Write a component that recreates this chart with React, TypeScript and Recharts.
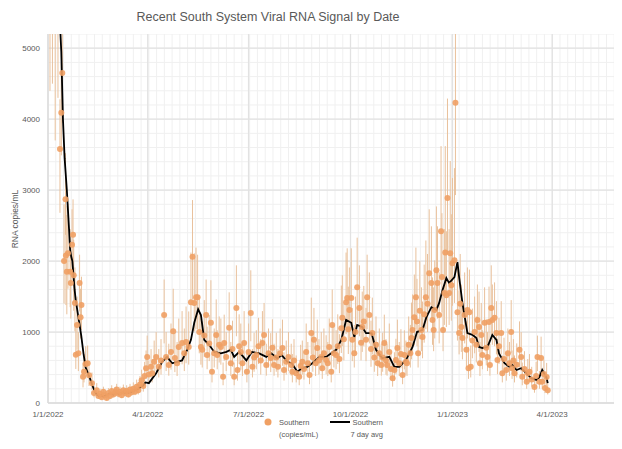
import React from 'react';
import { ComposedChart, Scatter, Line, XAxis, YAxis, CartesianGrid, ErrorBar } from 'recharts';

// x = days since 1/1/2022
const tickDays = [0, 90, 181, 273, 365, 455];
const tickLabels = ['1/1/2022', '4/1/2022', '7/1/2022', '10/1/2022', '1/1/2023', '4/1/2023'];
const yTicks = [0, 1000, 2000, 3000, 4000, 5000];

// Southern (copies/mL) samples
const sampleDays = [
  1.8, 4, 6.5, 9, 10.8, 12, 12.9, 14.5, 15.8, 16.2,
  17, 18, 20, 20.6, 21.7, 22.6, 23.2, 24.3, 25.1, 26.2,
  27.4, 28.5, 29.4, 30.2, 31.6, 32.5, 34, 35.8, 37, 39.7,
  41.5, 44, 45.5, 47, 48.5, 50, 51.5, 53, 54.5, 56,
  57.5, 59, 60.5, 62, 63.5, 65, 66.5, 68, 69.5, 71,
  72.5, 74, 75.5, 77, 78.5, 80, 81.5, 83, 84.5, 86,
  87.2, 88.5, 89.5, 91, 93, 94, 95.8, 97.6, 100, 102,
  104.8, 106.6, 109, 111, 113, 114.5, 116.5, 118, 121, 123,
  124.6, 127, 129, 130.4, 132, 133.6, 135, 136.5, 138, 139.2,
  141, 142.7, 143.6, 145.5, 147, 148, 150, 151.8, 152.7, 154.5,
  156, 158, 159, 160.8, 163.5, 165, 166.5, 168, 170, 171,
  172.5, 174, 175.5, 177, 179.5, 181, 183, 184.5, 186, 188,
  190, 192, 193.5, 195, 197, 199, 201, 202.5, 204, 206,
  207.5, 209.5, 211.6, 213, 215, 217, 219.5, 220.5, 222, 224,
  226.7, 228, 229.5, 231, 233, 234.5, 236, 237.6, 239, 240,
  241.5, 243, 244.5, 246.6, 247.5, 249, 251, 252.5, 253.8, 255.6,
  256.5, 258, 260, 261.5, 263, 264.7, 265.6, 267, 269, 270,
  271, 272, 273.7, 274.6, 276.4, 277.5, 279, 281, 282.5, 283.6,
  285, 287, 288, 290, 291.5, 292.7, 294.5, 296, 297.5, 299,
  300.8, 302, 303.5, 305, 306, 308, 309.5, 311, 312.6, 314,
  315.3, 317, 318.5, 320, 321.6, 323, 324, 325.5, 327, 328,
  329, 330.6, 332, 333, 334, 335.5, 337, 338, 339.5, 341,
  342.5, 344, 346, 347, 348, 349, 350.5, 351.5, 353, 354.7,
  355.5, 356.5, 357.7, 358.5, 359.5, 360.5, 362, 363, 364, 365,
  366.8, 367.7, 369.5, 371, 372, 373, 374, 376, 377.6, 378.5,
  379.5, 380.3, 381.5, 383, 385, 386.5, 387.5, 389, 389.8, 391,
  392, 394, 395.5, 396.6, 398, 398.8, 400, 401, 403, 404.7,
  405.6, 407, 409, 410, 411.5, 413.6, 415, 416.5, 418, 418.8,
  420, 421, 423, 425.5, 427, 428, 430, 432, 433, 434.5,
  436.5, 439, 440.5, 441.7, 443.5, 445, 446, 447.5, 448.5, 450,
  451,
];
const sampleValues = [
  6500, 6100, 5600, 5300, 3580, 4090, 4650, 2000, 2870, 2080,
  1850, 2110, 1850, 1690, 2230, 2370, 1800, 1410, 680, 1100,
  700, 1690, 1210, 1380, 370, 440, 550, 560, 390, 280,
  140, 180, 100, 130, 80, 160, 110, 70, 140, 100,
  170, 120, 150, 190, 130, 160, 110, 180, 140, 170,
  120, 190, 150, 200, 160, 230, 180, 260, 320, 240,
  380, 490, 650, 400, 510, 420, 580, 650, 510, 600,
  1240, 650, 535, 720, 1010, 635, 560, 790, 845, 700,
  860, 790, 1420, 2060, 1410, 1490, 1490, 1000, 790, 750,
  950, 1240, 675, 840, 1130, 440, 700, 960, 675, 820,
  790, 370, 845, 650, 1060, 560, 760, 370, 1340, 465,
  800, 720, 560, 845, 440, 720, 1270, 510, 640, 675,
  800, 600, 845, 960, 535, 700, 635, 780, 535, 640,
  510, 700, 775, 465, 580, 650, 535, 440, 600, 420,
  370, 520, 580, 480, 720, 560, 395, 985, 640, 890,
  560, 775, 600, 650, 490, 700, 605, 560, 790, 440,
  1100, 700, 675, 800, 620, 1055, 1200, 900, 1420, 1480,
  1040, 1310, 1480, 890, 700, 1000, 1630, 1340, 850, 1070,
  1150, 890, 1490, 1240, 760, 985, 640, 820, 560, 700,
  535, 640, 845, 600, 535, 720, 480, 350, 465, 605,
  775, 560, 690, 395, 675, 580, 560, 820, 700, 915,
  1030, 1210, 1490, 1150, 700, 1300, 1030, 930, 1250, 1490,
  1400, 1830, 1690, 1170, 1030, 1310, 1870, 1690, 1240, 2420,
  1775, 1030, 1550, 2120, 1520, 2890, 1550, 2110, 1660, 1970,
  2010, 4230, 1280, 985, 1400, 1070, 915, 1240, 750, 1310,
  490, 1280, 510, 880, 1000, 820, 1170, 1070, 560, 960,
  675, 1130, 780, 650, 1140, 535, 1340, 1170, 1200, 985,
  605, 800, 985, 420, 620, 465, 700, 560, 1000, 490,
  600, 420, 540, 750, 650, 370, 480, 300, 420, 440,
  330, 225, 380, 650, 300, 635, 300, 410, 210, 365,
  180,
];
const sampleErrLow = [
  2100, 1600, 1900, 1000, 900, 600, 700, 600, 500, 700,
  600, 500, 500, 500, 500, 600, 500, 400, 200, 350,
  250, 400, 300, 350, 150, 150, 200, 200, 150, 100,
  60, 60, 40, 50, 30, 50, 40, 30, 50, 40,
  60, 40, 50, 60, 50, 50, 40, 60, 50, 60,
  40, 60, 50, 60, 50, 70, 60, 80, 100, 80,
  120, 150, 200, 130, 150, 130, 180, 200, 150, 200,
  400, 200, 150, 250, 300, 200, 180, 250, 300, 250,
  300, 250, 400, 600, 400, 450, 450, 300, 250, 250,
  300, 400, 200, 250, 350, 150, 200, 300, 200, 250,
  250, 120, 250, 200, 350, 180, 250, 120, 400, 150,
  250, 250, 180, 250, 150, 250, 400, 150, 200, 200,
  250, 200, 250, 300, 150, 200, 200, 250, 150, 200,
  150, 200, 250, 150, 180, 200, 150, 150, 200, 130,
  120, 150, 180, 150, 250, 180, 130, 300, 200, 300,
  180, 250, 200, 200, 150, 200, 200, 180, 250, 150,
  350, 200, 200, 250, 200, 350, 400, 300, 450, 450,
  350, 400, 450, 300, 200, 300, 500, 400, 250, 350,
  350, 300, 450, 400, 250, 300, 200, 250, 180, 200,
  150, 200, 250, 200, 150, 250, 150, 120, 150, 200,
  250, 180, 200, 130, 200, 180, 180, 250, 200, 300,
  300, 400, 450, 350, 200, 400, 300, 300, 400, 450,
  400, 500, 500, 350, 300, 400, 550, 500, 400, 700,
  500, 300, 450, 600, 450, 800, 450, 600, 500, 600,
  600, 1300, 400, 300, 400, 350, 300, 400, 250, 400,
  150, 400, 150, 250, 300, 250, 350, 350, 180, 300,
  200, 350, 250, 200, 350, 150, 400, 350, 400, 300,
  200, 250, 300, 130, 200, 150, 200, 180, 300, 150,
  200, 130, 180, 250, 200, 120, 150, 100, 130, 150,
  100, 80, 120, 200, 100, 200, 100, 130, 70, 120,
  60,
];
const sampleErrHigh = [
  1500, 1500, 1200, 1000, 700, 700, 800, 800, 650, 700,
  800, 700, 600, 600, 500, 500, 500, 500, 400, 400,
  300, 400, 400, 400, 200, 250, 250, 250, 200, 150,
  100, 100, 60, 70, 50, 70, 60, 50, 70, 60,
  80, 60, 70, 80, 60, 70, 60, 80, 70, 80,
  60, 80, 70, 90, 80, 100, 90, 120, 150, 120,
  200, 250, 300, 200, 250, 200, 300, 350, 250, 300,
  500, 350, 300, 400, 600, 350, 300, 400, 450, 350,
  500, 500, 700, 800, 700, 700, 600, 500, 400, 400,
  500, 500, 400, 400, 600, 250, 350, 500, 350, 400,
  400, 200, 400, 350, 500, 300, 400, 200, 600, 250,
  450, 400, 300, 450, 250, 400, 600, 250, 350, 350,
  400, 300, 450, 450, 300, 350, 350, 400, 300, 350,
  250, 350, 400, 250, 300, 350, 300, 250, 300, 250,
  200, 300, 300, 250, 400, 300, 200, 500, 350, 450,
  300, 400, 300, 350, 250, 350, 350, 300, 400, 250,
  500, 400, 350, 450, 350, 600, 600, 500, 700, 700,
  600, 600, 700, 450, 400, 500, 700, 600, 450, 500,
  500, 450, 600, 600, 400, 500, 350, 400, 300, 350,
  300, 350, 400, 300, 300, 400, 250, 200, 250, 300,
  400, 300, 350, 200, 350, 300, 300, 400, 400, 500,
  500, 600, 700, 600, 400, 700, 600, 500, 700, 800,
  700, 900, 800, 600, 600, 700, 900, 800, 600, 1200,
  900, 600, 900, 1500, 900, 1400, 900, 1300, 1000, 1200,
  1300, 1500, 700, 600, 700, 600, 500, 600, 400, 600,
  300, 600, 300, 450, 500, 400, 500, 500, 300, 450,
  350, 500, 400, 350, 500, 300, 600, 500, 500, 450,
  300, 400, 450, 250, 300, 250, 350, 300, 450, 250,
  300, 250, 300, 400, 350, 200, 250, 150, 200, 250,
  180, 150, 200, 300, 150, 300, 150, 200, 120, 200,
  100,
];

// Southern 7 day avg
const avgDays = [
  8, 10, 12, 13.5, 15, 17, 19, 20, 21, 22,
  23, 24, 25, 26, 28, 30, 32, 34, 36, 38,
  40, 42, 44, 46, 48, 50, 53, 56, 59, 62,
  65, 68, 71, 74, 77, 80, 83, 86, 88, 91,
  97.6, 103, 107.5, 112, 116.5, 121, 125.6, 129, 132, 135.5,
  138, 141, 145.4, 150, 156, 161, 165, 168, 172.5, 179,
  184, 190.6, 197, 201.4, 207, 211, 216, 220, 225, 229,
  234, 238.5, 245, 251, 255.6, 260, 264.7, 269, 273.7, 276.4,
  279, 283.6, 287, 292, 296, 301.7, 308, 312.6, 317, 323,
  329, 333, 338, 341.5, 346, 350.5, 353, 356, 359.5, 362,
  366.8, 369.5, 371, 374, 378.5, 383, 386.6, 389, 392, 396.6,
  401, 404.7, 407, 412, 416.4, 419, 422.8, 427, 431.8, 436,
  441, 443.5, 446, 450, 451,
];
const avgValues = [
  6200, 5600, 4950, 4000, 3450, 3000, 2450, 2150, 2060, 2000,
  1800, 1600, 1450, 1350, 1150, 950, 700, 500, 420, 340,
  250, 170, 120, 100, 110, 90, 110, 130, 120, 140,
  130, 150, 140, 150, 170, 190, 220, 250, 290, 280,
  420, 580, 650, 560, 580, 600, 750, 890, 1130, 1320,
  1240, 890, 820, 720, 700, 720, 750, 650, 720, 600,
  720, 700, 650, 700, 630, 675, 580, 560, 440, 490,
  510, 560, 650, 650, 700, 750, 890, 1170, 1130, 930,
  1100, 1070, 985, 985, 750, 630, 650, 510, 510, 605,
  790, 1000, 1030, 1210, 1350, 1310, 1410, 1590, 1760, 1690,
  1775, 1985, 1775, 1410, 985, 960, 915, 790, 775, 790,
  960, 890, 700, 560, 510, 535, 465, 490, 420, 350,
  325, 365, 465, 350, 280,
];

const scatterData = sampleDays.map((d, i) => ({
  day: d,
  value: sampleValues[i],
  err: [sampleErrLow[i], sampleErrHigh[i]],
}));
const avgData = avgDays.map((d, i) => ({ day: d, value: avgValues[i] }));

const X_MAX = 518;
const Y_MAX = 5200;
const minorX: number[] = [];
for (let d = 0; d <= X_MAX; d += 7) minorX.push(d);
const minorY: number[] = [];
for (let v = 0; v <= Y_MAX; v += 200) minorY.push(v);

const FONT = '"Liberation Sans", Arial, sans-serif';
const TEXT = '#595959';
const DOT = '#f0a064';
const ERR = '#e9c19c';

const Dot = (props: any) => {
  const { cx, cy } = props;
  if (cx == null || cy == null) return null;
  return <circle cx={cx} cy={cy} r={3} fill={DOT} fillOpacity={0.9} />;
};

export default function App() {
  return (
    <div style={{ position: 'relative', width: 614, height: 441, fontFamily: FONT }}>
      <div style={{ position: 'absolute', left: 0, top: 0, clipPath: 'inset(26px 0px 0px 0px)' }}>
        <ComposedChart width={614} height={441} margin={{ top: 26, right: 0, bottom: 26, left: 0 }}>
          <CartesianGrid stroke="#f0f0f0" strokeWidth={1} verticalValues={minorX} horizontalValues={minorY} />
          <CartesianGrid stroke="#e2e2e2" strokeWidth={1.3} verticalValues={tickDays} horizontalValues={yTicks} />
          <XAxis
            type="number"
            dataKey="day"
            domain={[0, X_MAX]}
            allowDataOverflow
            ticks={tickDays}
            tickFormatter={(d: number) => tickLabels[tickDays.indexOf(d)] ?? ''}
            tick={{ fill: TEXT, fontSize: 8 }}
            tickLine={false}
            axisLine={{ stroke: '#d9d9d9' }}
            height={20}
            interval={0}
          />
          <YAxis
            type="number"
            domain={[0, Y_MAX]}
            allowDataOverflow
            ticks={yTicks}
            tick={{ fill: TEXT, fontSize: 8 }}
            tickLine={false}
            axisLine={{ stroke: '#d9d9d9' }}
            width={40}
            interval={0}
          />
          <Scatter data={scatterData} dataKey="value" shape={Dot} isAnimationActive={false}>
            <ErrorBar dataKey="err" direction="y" width={0} stroke={ERR} strokeWidth={1} isAnimationActive={false} />
          </Scatter>
          <Line
            data={avgData}
            dataKey="value"
            stroke="#000000"
            strokeWidth={1.8}
            dot={false}
            activeDot={false}
            type="linear"
            isAnimationActive={false}
          />
        </ComposedChart>
      </div>
      <svg
        width={614}
        height={441}
        style={{ position: 'absolute', left: 0, top: 0, pointerEvents: 'none' }}
      >
        <text x={260} y={13} textAnchor="middle" fontSize={12.5} fill={TEXT} fontFamily={FONT}>
          Recent South System Viral RNA Signal by Date
        </text>
        <text
          transform="translate(10,211) rotate(-90)"
          textAnchor="middle"
          fontSize={8.5}
          fill={TEXT}
          fontFamily={FONT}
        >
          RNA copies/mL
        </text>
        <circle cx={260} cy={414} r={3.5} fill={DOT} />
        <text x={271} y={417} fontSize={7.5} fill={TEXT} fontFamily={FONT}>Southern</text>
        <text x={271} y={429} fontSize={7.5} fill={TEXT} fontFamily={FONT}>(copies/mL)</text>
        <line x1={322} x2={342} y1={414} y2={414} stroke="#000" strokeWidth={2} />
        <text x={375} y={417} textAnchor="end" fontSize={7.5} fill={TEXT} fontFamily={FONT}>Southern</text>
        <text x={375} y={429} textAnchor="end" fontSize={7.5} fill={TEXT} fontFamily={FONT}>7 day avg</text>
      </svg>
    </div>
  );
}
